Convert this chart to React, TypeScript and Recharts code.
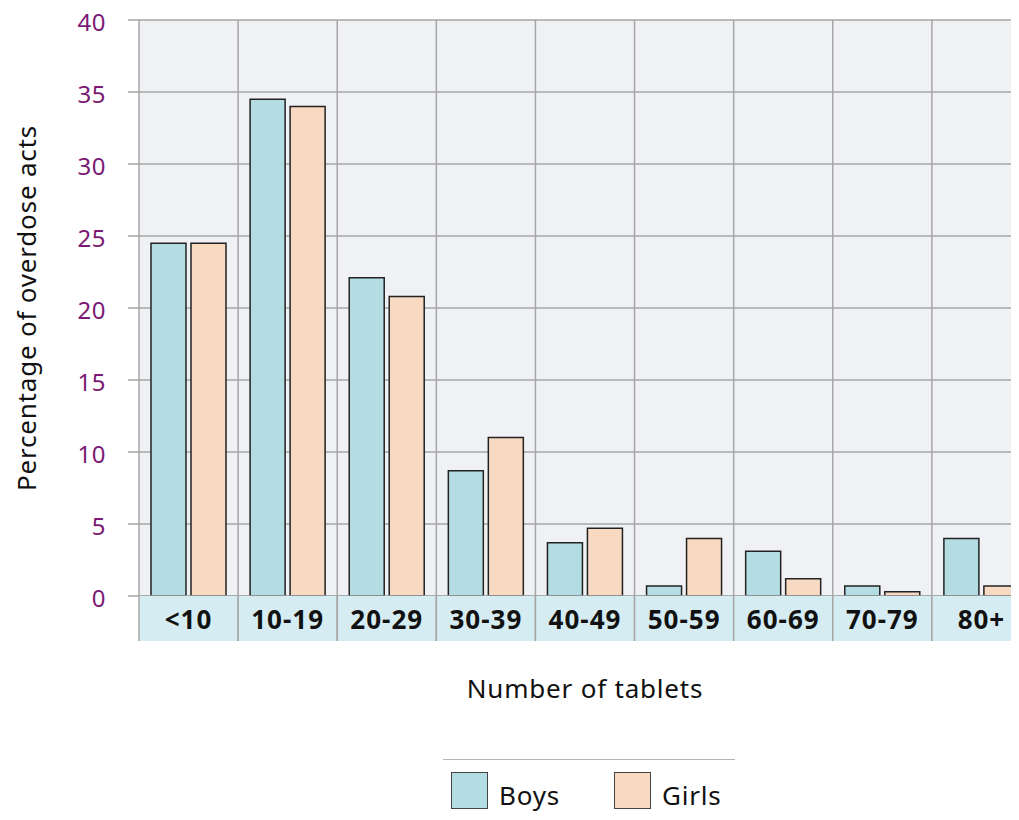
import { Bar, BarChart, CartesianGrid, XAxis, YAxis } from 'recharts'

const categories = ['<10', '10-19', '20-29', '30-39', '40-49', '50-59', '60-69', '70-79', '80+']
const boys = [24.5, 34.5, 22.1, 8.7, 3.7, 0.7, 3.1, 0.7, 4.0]
const girls = [24.5, 34.0, 20.8, 11.0, 4.7, 4.0, 1.2, 0.3, 0.7]
const yTicks = [0, 5, 10, 15, 20, 25, 30, 35, 40]

const data = categories.map((cat, i) => ({ cat, boys: boys[i], girls: girls[i] }))

const FONT = '"Noto Sans", "Open Sans", sans-serif'
const GRID = '#a6a6a6'
const BOYS_COLOR = '#b3dde3'
const GIRLS_COLOR = '#f8dac3'

const CHART_W = 1023
const CHART_H = 820
const X_AXIS_H = 110
// plot spans chart y 20..596 (chart top sits at page top)
const MARGIN = { top: 20, right: 0, left: 0, bottom: CHART_H - 596 - X_AXIS_H }
const Y_AXIS_W = 131
const PLOT_W = CHART_W - MARGIN.left - MARGIN.right - Y_AXIS_W
const BAND = PLOT_W / categories.length

const CategoryTick = (props: any) => {
  const { x, y, payload } = props
  const left = x - BAND / 2
  return (
    <g>
      <rect x={left} y={y} width={BAND} height={45} fill="#d6ecf3" />
      <line x1={left} x2={left} y1={y} y2={y + 45} stroke={GRID} strokeWidth={1.5} />
      <line x1={left + BAND} x2={left + BAND} y1={y} y2={y + 45} stroke={GRID} strokeWidth={1.5} />
      <text
        x={x}
        y={y + 33}
        textAnchor="middle"
        fontFamily={FONT}
        fontWeight="bold"
        fontSize={26}
        letterSpacing={1}
        fill="#111"
      >
        {payload.value}
      </text>
    </g>
  )
}

const LegendBox = () => (
  <div
    style={{
      position: 'absolute',
      left: 435,
      top: 759,
      width: 292,
      height: 50,
      borderTop: '1.5px solid #b5b5b5',
      fontFamily: FONT,
      fontSize: 26,
      letterSpacing: 0.8,
      color: '#111',
    }}
  >
    {[
      { name: 'Boys', color: BOYS_COLOR, left: 8 },
      { name: 'Girls', color: GIRLS_COLOR, left: 171 },
    ].map((item) => (
      <div key={item.name}>
        <div
          style={{
            position: 'absolute',
            left: item.left,
            top: 12,
            width: 35,
            height: 35,
            background: item.color,
            border: '1.5px solid #444',
          }}
        />
        <div style={{ position: 'absolute', left: item.left + 48, top: 21, lineHeight: '28px' }}>
          {item.name}
        </div>
      </div>
    ))}
  </div>
)

export default function App() {
  return (
    <div
      style={{ position: 'relative', width: 1011, height: CHART_H - 8, marginTop: -8, overflow: 'hidden' }}
    >
      <BarChart
        width={CHART_W}
        height={CHART_H}
        data={data}
        margin={MARGIN}
        barCategoryGap={12}
        barGap={5}
      >
        <CartesianGrid
          fill="#f0f1f4"
          stroke={GRID}
          strokeWidth={1.5}
          verticalCoordinatesGenerator={({ offset }: any) =>
            categories.map((_, i) => offset.left + i * (offset.width / categories.length))
          }
        />
        <XAxis
          dataKey="cat"
          axisLine={{ stroke: GRID, strokeWidth: 1.5 }}
          tickLine={false}
          tickSize={0}
          tickMargin={0}
          height={X_AXIS_H}
          interval={0}
          tick={<CategoryTick />}
          label={{
            content: ({ viewBox }: any) => (
              <text
                x={viewBox.x + viewBox.width / 2}
                y={viewBox.y + 102}
                textAnchor="middle"
                fontFamily={FONT}
                fontSize={26}
                letterSpacing={0.8}
                fill="#111"
              >
                Number of tablets
              </text>
            ),
          }}
        />
        <YAxis
          width={Y_AXIS_W}
          domain={[0, 40]}
          ticks={yTicks}
          interval={0}
          axisLine={false}
          tickSize={11}
          tickMargin={22}
          tickLine={{ stroke: GRID, strokeWidth: 1.5 }}
          tick={{ fill: '#7b1a73', fontSize: 24, fontFamily: FONT, dy: 2, letterSpacing: 0.5 }}
          label={{
            content: ({ viewBox }: any) => {
              const cx = 18
              const cy = viewBox.y + viewBox.height / 2
              return (
                <text
                  x={cx}
                  y={cy}
                  transform={`rotate(-90, ${cx}, ${cy})`}
                  textAnchor="middle"
                  dominantBaseline="central"
                  fontFamily={FONT}
                  fontSize={26}
                  letterSpacing={0.8}
                  fill="#111"
                >
                  Percentage of overdose acts
                </text>
              )
            },
          }}
        />
        <Bar dataKey="boys" name="Boys" fill={BOYS_COLOR} stroke="#222" strokeWidth={1.5} isAnimationActive={false} />
        <Bar dataKey="girls" name="Girls" fill={GIRLS_COLOR} stroke="#222" strokeWidth={1.5} isAnimationActive={false} />
      </BarChart>
      <LegendBox />
    </div>
  )
}
